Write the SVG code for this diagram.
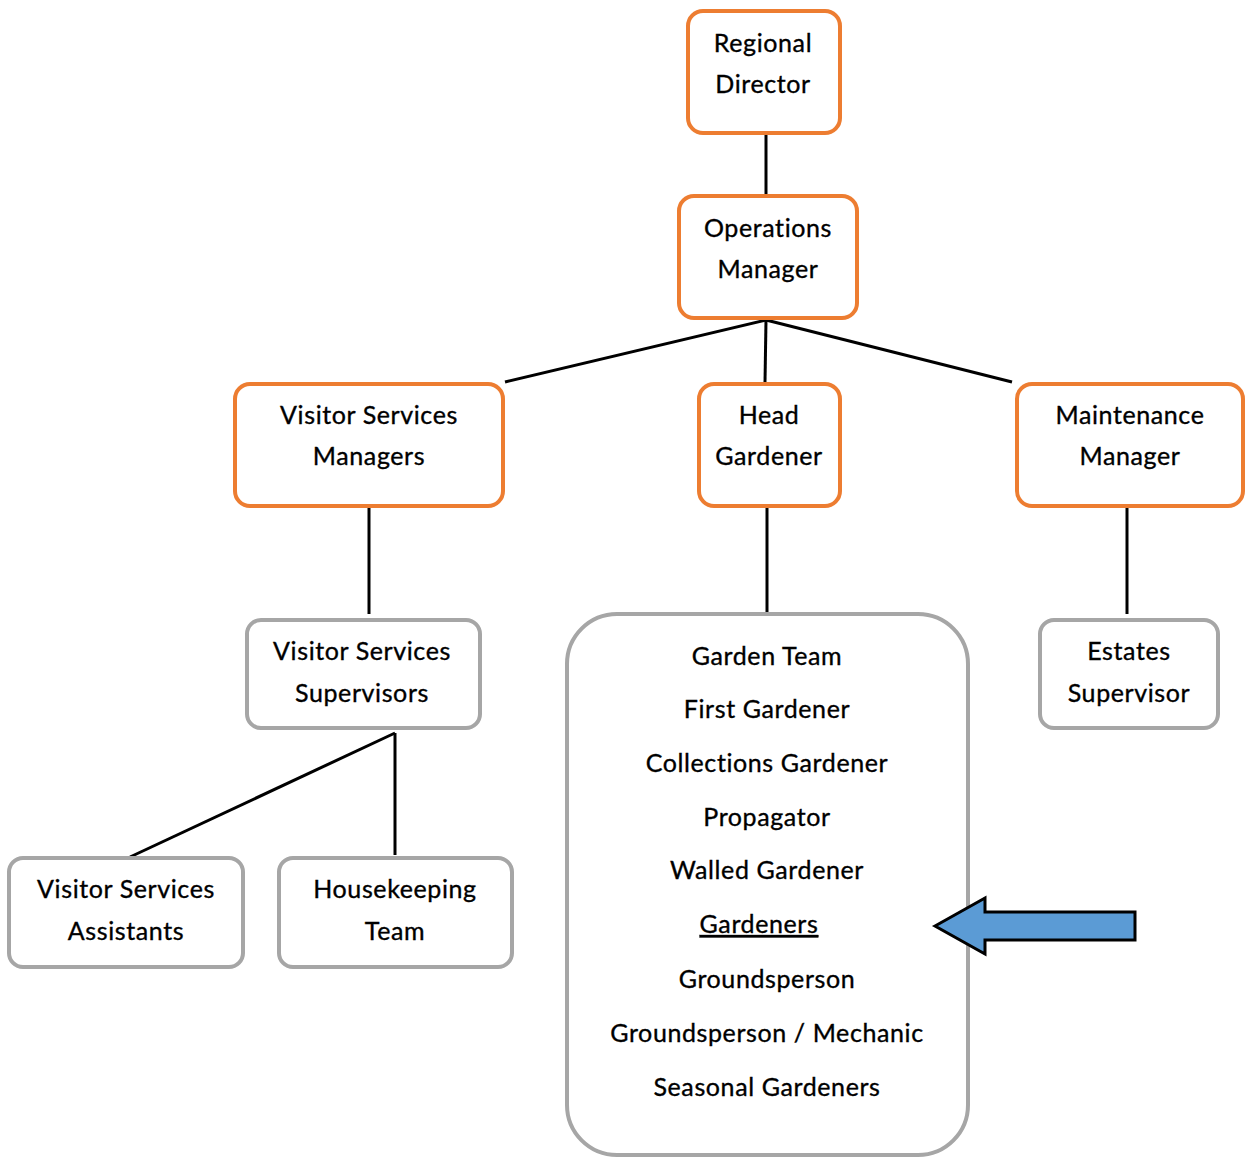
<svg xmlns="http://www.w3.org/2000/svg" width="1246" height="1158" viewBox="0 0 1246 1158">
<style>
.o{fill:#fff;stroke:#ED7D31;stroke-width:4}
.g{fill:#fff;stroke:#A6A6A6;stroke-width:4}
.c{stroke:#000;stroke-width:3;fill:none}
text{font-family:Lato,"Liberation Sans",sans-serif;font-size:25px;letter-spacing:0.6px;fill:#000;stroke:#000;stroke-width:0.35;text-anchor:middle}
</style>
<rect width="1246" height="1158" fill="#fff"/>
<g id="connectors">
<line class="c" x1="766" y1="133" x2="766" y2="194"/>
<line class="c" x1="766" y1="320" x2="505" y2="382"/>
<line class="c" x1="766" y1="320" x2="765" y2="382"/>
<line class="c" x1="766" y1="320" x2="1012" y2="382"/>
<line class="c" x1="369" y1="506" x2="369" y2="614"/>
<line class="c" x1="767" y1="508" x2="767" y2="613"/>
<line class="c" x1="1127" y1="508" x2="1127" y2="614"/>
<line class="c" x1="395" y1="733" x2="130" y2="857"/>
<line class="c" x1="395" y1="733" x2="395" y2="855"/>
</g>
<g id="regional-director"><rect class="o" x="688" y="11" width="152" height="122" rx="15"/><text x="763" y="52">Regional</text><text x="763" y="93">Director</text></g>
<g id="operations-manager"><rect class="o" x="679" y="196" width="178" height="122" rx="15"/><text x="768" y="237">Operations</text><text x="768" y="278">Manager</text></g>
<g id="visitor-services-managers"><rect class="o" x="235" y="384" width="268" height="122" rx="15"/><text x="369" y="424">Visitor Services</text><text x="369" y="465">Managers</text></g>
<g id="head-gardener"><rect class="o" x="699" y="384" width="141" height="122" rx="15"/><text x="769" y="424">Head</text><text x="769" y="465">Gardener</text></g>
<g id="maintenance-manager"><rect class="o" x="1017" y="384" width="226" height="122" rx="15"/><text x="1130" y="424">Maintenance</text><text x="1130" y="465">Manager</text></g>
<g id="visitor-services-supervisors"><rect class="g" x="247" y="620" width="233" height="108" rx="14"/><text x="362" y="660">Visitor Services</text><text x="362" y="702">Supervisors</text></g>
<g id="estates-supervisor"><rect class="g" x="1040" y="620" width="178" height="108" rx="14"/><text x="1129" y="660">Estates</text><text x="1129" y="702">Supervisor</text></g>
<g id="visitor-services-assistants"><rect class="g" x="9" y="858" width="234" height="109" rx="14"/><text x="126" y="898">Visitor Services</text><text x="126" y="940">Assistants</text></g>
<g id="housekeeping-team"><rect class="g" x="279" y="858" width="233" height="109" rx="14"/><text x="395" y="898">Housekeeping</text><text x="395" y="940">Team</text></g>
<g id="garden-team"><rect class="g" x="567" y="614" width="401" height="541" rx="50"/>
<text x="767" y="665">Garden Team</text>
<text x="767" y="718">First Gardener</text>
<text x="767" y="772">Collections Gardener</text>
<text x="767" y="826">Propagator</text>
<text x="767" y="879">Walled Gardener</text>
<text x="759" y="933" text-decoration="underline">Gardeners</text>
<text x="767" y="988">Groundsperson</text>
<text x="767" y="1042">Groundsperson / Mechanic</text>
<text x="767" y="1096">Seasonal Gardeners</text>
</g>
<g id="arrow"><polygon points="935,926 985,898 985,912 1135,912 1135,940 985,940 985,954" fill="#5B9BD5" stroke="#000" stroke-width="3" stroke-linejoin="miter"/></g>
</svg>
